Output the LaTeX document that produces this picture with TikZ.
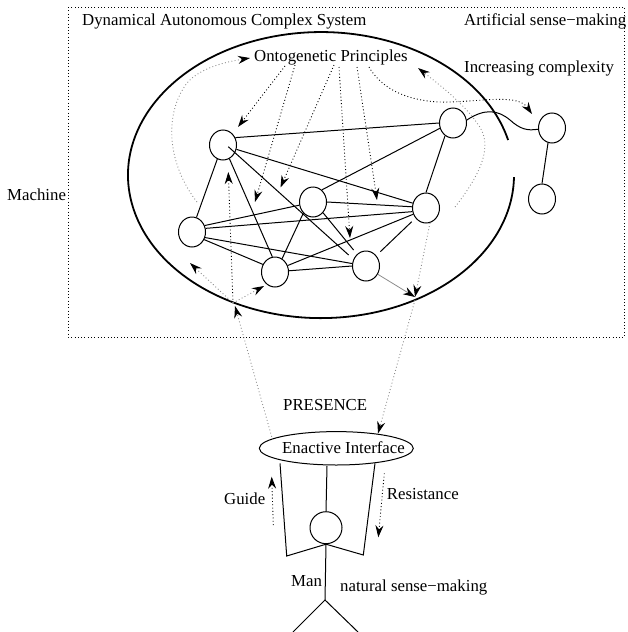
\documentclass[tikz,border=0pt]{standalone}
\usepackage{fontspec}
\setmainfont{Liberation Serif}
\usetikzlibrary{arrows.meta,shapes.geometric}
\begin{document}
\begin{tikzpicture}[x=1pt,y=-1pt,
  every node/.style={font=\fontsize{16.8}{20}\selectfont, inner sep=0pt},
  txt/.style={anchor=base west},
  nd/.style={draw, ellipse, minimum width=27pt, minimum height=30pt, line width=1pt},
  lnk/.style={line width=1pt},
  dotl/.style={line width=0.9pt, dash pattern=on 0.9pt off 2.4pt},
  gdotl/.style={dotl, draw=black!45},
  arr/.style={-{Stealth[length=12pt,width=8pt,inset=4pt,color=black]}},
]
\useasboundingbox (0,0) rectangle (627,632);

% frame
\draw[dotl] (68,7) rectangle (624.5,337);

% texts
\node[txt] (t1) at (82,25) {Dynamical Autonomous Complex System};
\node[txt] (t2) at (464,25) {Artificial sense−making};
\node[txt] (t3) at (464,72) {Increasing complexity};
\node[txt] (O) at (254,61) {Ontogenetic Principles};
\node[txt] (t4) at (7,200) {Machine};
\node[txt] (t5) at (283,410.7) {PRESENCE};
\node[txt] (t6) at (282,453.3) {Enactive Interface};
\node[txt] (t7) at (224,504) {Guide};
\node[txt] (t8) at (386.7,499) {Resistance};
\node[txt] (t9) at (291,586.7) {Man};
\node[txt] (t10) at (340,591) {natural sense−making};

% big system ellipse (open on the right)
\draw[line width=1.8pt] (508.1,140) arc[start angle=14.2, end angle=359.2, x radius=193pt, y radius=143pt];

% network nodes
\node[nd] (A) at (223,145) {};
\node[nd] (B) at (453,123) {};
\node[nd] (C) at (313,202) {};
\node[nd] (D) at (426,208) {};
\node[nd] (E) at (192,232) {};
\node[nd] (F) at (275,272) {};
\node[nd] (G) at (366,266) {};
\node[nd] (H) at (552,128) {};
\node[nd] (I) at (542,199) {};

% edges
\draw[lnk] (A.31) -- (B.180);
\draw[lnk] (A.-18) -- (D.160);
\draw[lnk] ([shift={(5.3,1.7)}]A.center) -- ([shift={(-17.4,-11)}]G.center);
\draw[lnk] (A.-65) -- (F.100);
\draw[lnk] (A.-112) -- (E.73);
\draw[lnk] (B.202) -- (C.54);
\draw[lnk] (B.238) -- (D.90);
\draw[lnk] (B.12) .. controls (485,108) and (498,110) .. (510,120) .. controls (520,129) and (527,131) .. (H.185);
\draw[lnk] (H.-105) -- (I.90);
\draw[lnk] (C.0) -- (D.175);
\draw[lnk] (C.193) -- (E.27);
\draw[lnk] (C.229) -- (F.62);
\draw[lnk] (C.313) -- ([shift={(-12.4,-16)}]G.center);
\draw[lnk] (D.195) -- (E.15);
\draw[lnk] (D.206) -- (F.27);
\draw[lnk] ([shift={(-14.3,13.7)}]D.center) -- ([shift={(14.3,-14.3)}]G.center);
\draw[lnk] (E.-32) -- (F.148);
\draw[lnk] (E.-23) -- (G.170);
\draw[lnk] (F.5) -- (G.180);

% ontogenetic principle arrows
\coordinate (o1) at (285,66);  \coordinate (tA) at (238,127);
\coordinate (o2) at (295,65);  \coordinate (tB) at (255,202);
\coordinate (o3) at (334,65);  \coordinate (tC) at (280.5,187.5);
\coordinate (o4) at (339,67);  \coordinate (tD) at (350,238);
\coordinate (o5) at (357,67);  \coordinate (tE) at (377,200);
\coordinate (o6) at (369,67);  \coordinate (tH) at (532,114);
\draw[dotl,arr] (o1) -- (tA);
\draw[dotl,arr] (o2) -- (tB);
\draw[dotl,arr] (o3) -- (tC);
\draw[dotl,arr] (o4) -- (tD);
\draw[dotl,arr] (o5) -- (tE);
\draw[dotl,arr] (o6) .. controls (385,95) and (420,103) .. (450,102) .. controls (485,101) and (518,94) .. (tH);

% grey feedback curves
\coordinate (lq) at (197,202); \coordinate (lt) at (250,58);
\draw[gdotl,arr] (lq) .. controls (168,165) and (163,115) .. (187,83) .. controls (200,68) and (225,62) .. (lt);
\coordinate (rq) at (455,207); \coordinate (rt) at (418,68);
\draw[gdotl,arr] (rq) .. controls (480,175) and (495,145) .. (477,123) .. controls (465,105) and (440,85) .. (rt);

% enactive interface
\node[draw, ellipse, minimum width=154pt, minimum height=33.4pt, line width=1pt] (EI) at (336.3,448.3) {};

% flows between interface and system
\coordinate (ei1) at (271.7,436.7);
\coordinate (J) at (235,306);
\coordinate (J0) at (233,303);
\coordinate (tA2) at (228.3,172);
\coordinate (tE2) at (190,263);
\coordinate (tF2) at (264,286);
\draw[gdotl,arr] (ei1) -- (J);
\draw[dotl,arr] (J0) -- (tA2);
\draw[gdotl,arr] (J0) -- (tE2);
\draw[gdotl,arr] (J0) -- (tF2);

\coordinate (K) at (415,297);
\coordinate (K0) at (415,300);
\coordinate (eit) at (378,433.5);
\draw[gdotl,arr] (D.-75) -- (K);
\draw[line width=0.8pt, draw=black!45, arr] (G.-35) -- (K);
\draw[gdotl,arr] (K0) -- (eit);

% guide / resistance
\coordinate (g0) at (273.3,525); \coordinate (g1) at (271.7,476.7);
\coordinate (r0) at (384.3,473.3); \coordinate (r1) at (378.3,537.3);
\draw[dotl,arr] (g0) -- (g1);
\draw[dotl,arr] (r0) -- (r1);

% man
\node[draw, circle, minimum size=32pt, line width=1pt] (head) at (326,527.7) {};
\coordinate (eil) at (280,463.3);
\coordinate (eir) at (375,463.3);
\coordinate (eic) at (327,466);
\coordinate (la) at (286.7,556);
\coordinate (ra) at (363.3,555);
\coordinate (hip) at (325,600);
\coordinate (lf) at (293,632);
\coordinate (rf) at (358,632);
\draw[line width=1pt] (eil) -- (la) -- (head.south) -- (ra) -- (eir);
\draw[line width=1pt] (eic) -- (head.north);
\draw[line width=1pt] (head.south) -- (hip);
\draw[line width=1pt] (lf) -- (hip) -- (rf);
\end{tikzpicture}
\end{document}
